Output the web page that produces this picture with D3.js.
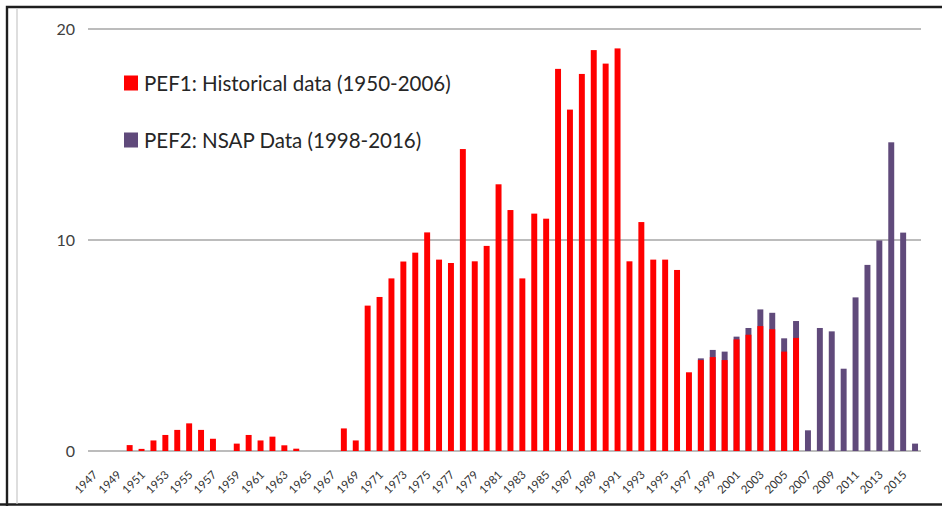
<!DOCTYPE html>
<html>
<head>
<meta charset="utf-8">
<script src="https://cdn.jsdelivr.net/npm/d3@7"></script>
<style>
  html, body { margin: 0; padding: 0; background: #fff; overflow: hidden; width: 942px; height: 506px; }
  svg { display: block; font-family: Lato, "Open Sans", sans-serif; }
</style>
</head>
<body>
<svg id="chart" width="942" height="506"></svg>
<script>
// ---- data ----
const years = d3.range(1947, 2017).map(String);
const yTicks = [0, 10, 20];
const xTickLabels = d3.range(1947, 2016, 2).map(String);

const pef1Years = d3.range(1950, 2007).map(String);
const pef1Values = [
  0.28, 0.10, 0.50, 0.76, 1.00, 1.31, 1.00, 0.58, 0.00, 0.35,   // 1950-1959
  0.76, 0.50, 0.68, 0.27, 0.11, 0.00, 0.00, 0.00, 1.07, 0.50,   // 1960-1969
  6.89, 7.30, 8.18, 8.98, 9.40, 10.36, 9.07, 8.91, 14.31, 8.99, // 1970-1979
  9.72, 12.64, 11.42, 8.18, 11.25, 11.01, 18.11, 16.18, 17.87, 19.00, // 1980-1989
  18.36, 19.08, 8.99, 10.85, 9.07, 9.07, 8.58, 3.73, 4.31, 4.45, // 1990-1999
  4.31, 5.29, 5.51, 5.92, 5.77, 4.71, 5.36                        // 2000-2006
];

const pef2Years = d3.range(1998, 2017).map(String);
const pef2Values = [
  4.39, 4.79, 4.71, 5.42, 5.83, 6.71, 6.55, 5.34, 6.16, 0.98,  // 1998-2007
  5.83, 5.67, 3.90, 7.28, 8.82, 9.98, 14.63, 10.35, 0.35        // 2008-2016
];

const seriesNames = ["PEF1: Historical data (1950-2006)", "PEF2: NSAP Data (1998-2016)"];
const seriesColors = ["#ff0000", "#604a7b"];

// ---- layout ----
const svg = d3.select("#chart");
const plotLeft = 88, plotRight = 921, plotTop = 29, plotBottom = 451;

const x = d3.scaleBand().domain(years).range([plotLeft, plotRight]).paddingInner(0.5).paddingOuter(0.25);
const y = d3.scaleLinear().domain([0, 20]).range([plotBottom, plotTop]);

svg.append("rect").attr("x", 0).attr("y", 0).attr("width", 942).attr("height", 506).attr("fill", "#fff");

// outer frame
svg.append("path")
  .attr("d", "M 7 510 L 7 7 L 950 7")
  .attr("fill", "none").attr("stroke", "#1e1e1e").attr("stroke-width", 2.4);
svg.append("line")
  .attr("x1", 0).attr("x2", 950).attr("y1", 504.5).attr("y2", 504.5)
  .attr("stroke", "#1e1e1e").attr("stroke-width", 2.4);
// faint inner vertical line
svg.append("line")
  .attr("x1", 17).attr("x2", 17).attr("y1", 8).attr("y2", 504)
  .attr("stroke", "#c8c8c8").attr("stroke-width", 1.2);

// gridlines
const grid = svg.append("g");
grid.selectAll("line").data(yTicks).join("line")
  .attr("x1", plotLeft).attr("x2", plotRight)
  .attr("y1", d => y(d)).attr("y2", d => y(d))
  .attr("stroke", "#a6a6a6").attr("stroke-width", 1.4);

// y axis labels
const yAxis = d3.axisLeft(y).tickValues(yTicks).tickSize(0).tickPadding(13);
const yg = svg.append("g").attr("transform", `translate(${plotLeft},0)`).call(yAxis);
yg.select(".domain").remove();
yg.selectAll("text")
  .attr("font-family", "Lato, sans-serif")
  .attr("font-size", 16).attr("fill", "#404040");

// x axis labels
const xAxis = d3.axisBottom(x).tickValues(xTickLabels).tickSize(0);
const xg = svg.append("g").attr("transform", `translate(0,${plotBottom})`).call(xAxis);
xg.select(".domain").remove();
xg.selectAll("text")
  .attr("font-family", "Lato, sans-serif")
  .attr("font-size", 11.5).attr("fill", "#333333")
  .attr("text-anchor", "end")
  .attr("dy", null).attr("y", null)
  .attr("transform", "translate(4.3,24.6) rotate(-45)");

// bars: PEF2 behind, PEF1 in front
const pef2 = pef2Years.map((yr, i) => ({ year: yr, value: pef2Values[i] }));
const pef1 = pef1Years.map((yr, i) => ({ year: yr, value: pef1Values[i] }));

svg.append("g").selectAll("rect").data(pef2.filter(d => d.value > 0)).join("rect")
  .attr("x", d => x(d.year)).attr("width", x.bandwidth())
  .attr("y", d => y(d.value)).attr("height", d => y(0) - y(d.value))
  .attr("fill", seriesColors[1]);

svg.append("g").selectAll("rect").data(pef1.filter(d => d.value > 0)).join("rect")
  .attr("x", d => x(d.year)).attr("width", x.bandwidth())
  .attr("y", d => y(d.value)).attr("height", d => y(0) - y(d.value))
  .attr("fill", seriesColors[0]);

// legend
const legend = svg.append("g");
const legendY = [83, 140];
seriesNames.forEach((name, i) => {
  legend.append("rect")
    .attr("x", 124).attr("y", legendY[i] - 7.5).attr("width", 14).attr("height", 15)
    .attr("fill", seriesColors[i]);
  legend.append("text")
    .attr("x", 144).attr("y", legendY[i] + 7.8)
    .attr("font-family", "Lato, sans-serif")
    .attr("font-size", 20.5).attr("fill", "#262626")
    .text(name);
});

// keep the right margin clean
svg.append("rect").attr("x", 922).attr("y", 9).attr("width", 20).attr("height", 494).attr("fill", "#fff");
</script>
</body>
</html>
